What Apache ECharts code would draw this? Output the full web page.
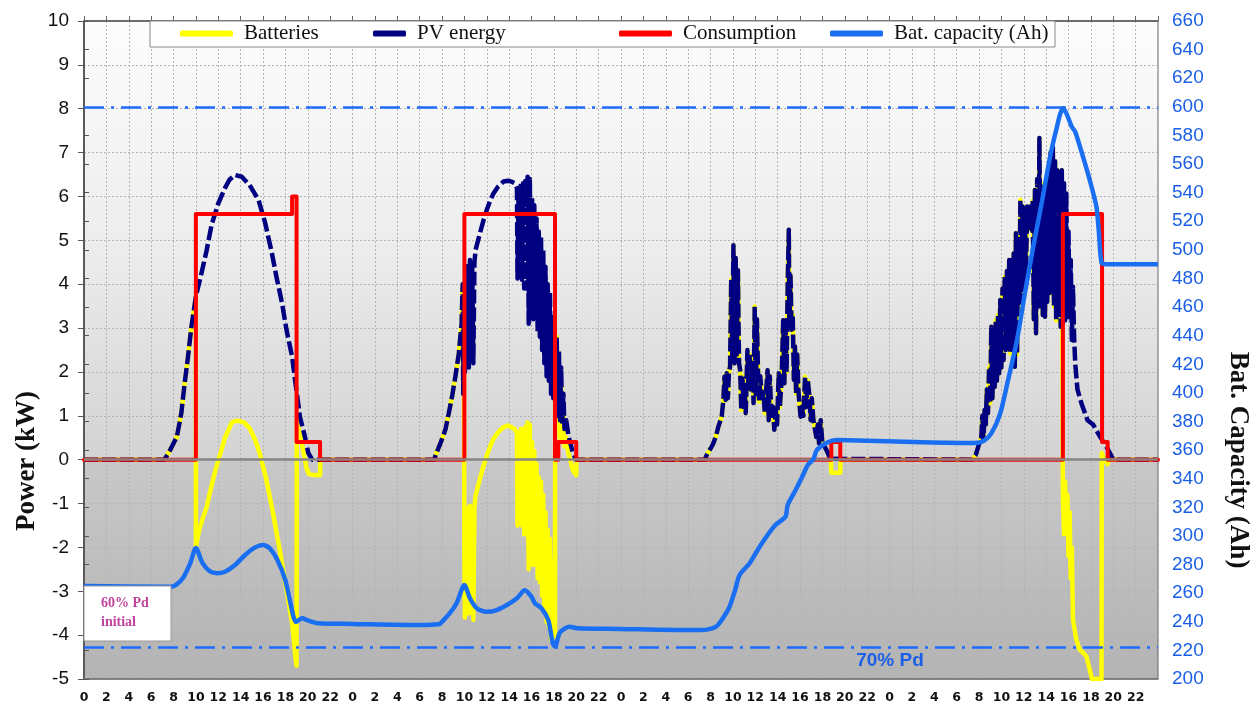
<!DOCTYPE html>
<html>
<head>
<meta charset="utf-8">
<title>Batteries, PV energy, consumption and battery capacity</title>
<script src="https://cdn.jsdelivr.net/npm/echarts@6/dist/echarts.min.js"></script>
<style>
  html, body { margin: 0; padding: 0; background: #fff; }
  #chart { width: 1258px; height: 707px; }
</style>
</head>
<body>
<div id="chart"></div>
<script>
// hours run over four days (0..96), power in kW, capacity in Ah

var pvDay1 = [[7.2,0],[7.7,0.22],[8.3,0.52],[8.7,1.06],[9.0,1.75],[9.3,2.35],[9.6,3.03],[10.0,3.72],
  [10.5,4.25],[10.97,4.78],[11.4,5.35],[12.0,5.84],[12.6,6.19],[13.0,6.38],[13.5,6.49],[14.1,6.45],
  [14.8,6.26],[15.6,5.92],[16.2,5.39],[16.8,4.7],[17.2,4.17],[17.7,3.57],[18.1,2.96],[18.6,2.35],
  [18.9,1.75],[19.3,0.98],[19.75,0.52],[20.05,0.15],[20.4,0]];

var pvDay2 = [[31.3,0],[31.5,0.15],[31.9,0.4],[32.3,0.68],[32.6,1.05],[32.9,1.44],[33.2,1.9],[33.5,2.42],
  [33.75,3.1],[33.85,4.0],[33.9,1.5],[33.95,3.6],[34.05,2.0],[34.1,4.1],[34.2,2.2],[34.3,4.5],[34.4,2.1],
  [34.5,4.55],[34.6,2.3],[34.7,4.4],[34.8,2.2],[34.9,4.5],[35.0,4.78],[35.4,5.17],[35.7,5.45],[36.0,5.69],
  [36.3,5.9],[36.6,6.07],[37.0,6.22],[37.5,6.34],[37.9,6.36],[38.2,6.34],[38.5,6.3],[38.7,6.19],[38.75,4.13],
  [38.85,6.2],[38.95,5.3],[39.05,6.3],[39.15,4.1],[39.25,6.3],[39.35,3.9],[39.45,6.35],[39.55,3.9],[39.65,6.45],
  [39.75,3.1],[39.85,6.4],[39.95,3.5],[40.05,6.0],[40.15,3.2],[40.25,5.8],[40.35,3.3],[40.45,5.5],[40.55,2.9],
  [40.65,5.2],[40.75,2.8],[40.85,5.1],[40.95,2.5],[41.05,4.8],[41.15,2.2],[41.25,4.4],[41.35,1.9],[41.45,4.0],
  [41.55,1.8],[41.65,3.8],[41.75,1.5],[41.85,3.3],[41.95,1.4],[42.05,3.0],[42.15,1.2],[42.25,2.8],[42.35,1.0],
  [42.45,2.5],[42.55,0.9],[42.65,2.1],[42.75,0.8],[42.85,1.5],[42.95,0.7],[43.1,0.9],[43.3,0.55],[43.5,0.35],
  [43.7,0.15],[44.0,0]];

var pvDay3 = [[55.5,0],[55.65,0.1],[56.0,0.25],[56.25,0.37],[56.5,0.55],[56.7,0.75],[57.0,0.98],[57.15,1.36],
  [57.25,1.89],[57.35,1.36],[57.45,1.97],[57.55,1.4],[57.65,2.0],[57.75,2.12],[57.85,4.1],[57.95,2.3],
  [58.05,4.89],[58.15,2.2],[58.25,4.6],[58.35,2.4],[58.45,4.32],[58.55,2.2],[58.65,2.04],[58.75,1.13],
  [58.85,1.9],[58.95,1.2],[59.05,1.66],[59.15,1.06],[59.3,2.5],[59.4,1.59],[59.5,2.4],[59.6,1.6],[59.75,2.2],
  [59.85,1.29],[59.95,3.49],[60.05,1.4],[60.15,3.2],[60.25,1.97],[60.35,1.32],[60.45,1.9],[60.6,1.4],
  [60.75,1.51],[60.85,1.06],[60.95,1.5],[61.1,2.04],[61.2,0.9],[61.3,1.9],[61.45,1.0],[61.6,1.2],[61.7,0.68],
  [61.85,1.1],[61.95,0.8],[62.1,1.97],[62.2,1.2],[62.35,1.8],[62.5,3.18],[62.6,1.74],[62.7,3.0],[62.8,2.0],
  [62.9,4.0],[63.0,5.24],[63.05,3.0],[63.15,4.2],[63.25,2.96],[63.35,3.3],[63.45,1.82],[63.55,2.58],
  [63.65,1.51],[63.75,2.4],[63.85,1.6],[63.95,1.28],[64.05,0.98],[64.15,1.2],[64.3,1.0],[64.45,1.89],
  [64.55,1.2],[64.7,1.8],[64.85,1.44],[64.95,0.9],[65.05,1.4],[65.2,0.9],[65.35,0.9],[65.45,0.52],[65.6,0.8],
  [65.7,0.37],[65.85,0.9],[66.0,0.37],[66.2,0.3],[66.4,0.2],[66.6,0.08],[66.75,0.02]];

var pvDay4 = [[79.4,0],[79.7,0.1],[80.0,0.35],[80.2,0.5],[80.3,1.0],[80.4,0.45],[80.5,1.13],[80.6,0.8],
  [80.7,1.6],[80.8,1.06],[80.9,2.1],[81.0,1.3],[81.1,3.03],[81.2,1.4],[81.3,2.8],[81.4,1.66],[81.5,3.18],
  [81.6,1.8],[81.7,3.3],[81.8,1.97],[81.9,3.64],[82.0,2.1],[82.1,3.9],[82.2,2.27],[82.3,4.17],[82.4,2.5],
  [82.5,4.3],[82.6,2.73],[82.7,4.55],[82.8,2.42],[82.9,4.55],[83.0,2.5],[83.1,4.7],[83.2,2.12],[83.3,5.16],
  [83.4,2.4],[83.5,5.0],[83.6,3.49],[83.7,5.92],[83.8,3.6],[83.9,5.77],[84.0,3.94],[84.1,5.6],[84.2,4.2],
  [84.3,5.77],[84.4,5.24],[84.6,5.77],[84.7,5.24],[84.8,5.9],[84.9,3.2],[85.0,6.15],[85.1,2.88],[85.2,6.4],
  [85.3,3.49],[85.4,7.33],[85.5,3.5],[85.6,6.3],[85.7,3.3],[85.8,5.84],[85.9,3.26],[86.0,6.2],[86.1,3.6],
  [86.2,6.6],[86.3,3.8],[86.4,7.0],[86.5,3.79],[86.6,7.13],[86.7,3.5],[86.8,6.8],[86.9,3.18],[87.0,6.6],
  [87.1,3.3],[87.2,6.5],[87.3,3.03],[87.4,6.6],[87.5,3.1],[87.6,6.3],[87.7,3.18],[87.8,6.07],[87.9,3.4],
  [88.0,5.2],[88.1,3.18],[88.2,4.55],[88.3,2.73],[88.4,3.94],[88.5,2.8],[88.6,2.2],[88.8,1.6],[89.2,1.25],
  [89.7,0.9],[90.2,0.8],[90.6,0.62],[91.0,0.45],[91.5,0.25],[91.9,0.05],[92.1,0]];

// battery power where the load is on (elsewhere it follows the PV curve)
var batDay1 = [[10.0,-2.0],[10.3,-1.6],[10.6,-1.35],[10.97,-1.07],[11.3,-0.7],[11.6,-0.39],[11.9,-0.1],
  [12.2,0.15],[12.6,0.5],[13.2,0.84],[13.5,0.88],[13.9,0.88],[14.3,0.85],[14.8,0.72],[15.3,0.45],[15.7,0.15],
  [16.0,-0.15],[16.3,-0.46],[16.9,-1.22],[17.5,-2.06],[18.1,-2.97],[18.6,-3.73],[18.9,-4.5],[19.0,-4.7],
  [19.02,0.9],[19.3,0.6],[19.6,0.2],[19.9,-0.2],[20.1,-0.33],[20.5,-0.35],[21.1,-0.35],[21.12,0]];

var batDay2 = [[34.0,-2.2],[34.05,-3.6],[34.1,-1.5],[34.2,-3.4],[34.3,-1.1],[34.4,-3.5],[34.5,-1.05],
  [34.6,-3.3],[34.7,-1.2],[34.8,-3.65],[34.9,-1.1],[35.0,-0.82],[35.4,-0.43],[35.7,-0.15],[36.0,0.09],
  [36.3,0.3],[36.6,0.47],[37.0,0.62],[37.5,0.74],[37.9,0.78],[38.2,0.74],[38.5,0.7],[38.7,0.6],[38.75,-1.5],
  [38.85,0.6],[38.95,-0.3],[39.05,0.7],[39.15,-1.5],[39.25,0.7],[39.35,-1.7],[39.45,0.75],[39.55,-1.7],
  [39.65,0.85],[39.75,-2.5],[39.85,0.8],[39.95,-2.1],[40.05,0.4],[40.15,-2.4],[40.25,0.2],[40.35,-2.3],
  [40.45,-0.1],[40.55,-2.7],[40.65,-0.4],[40.75,-2.8],[40.85,-0.5],[40.95,-3.1],[41.05,-0.8],[41.15,-3.4],
  [41.25,-1.2],[41.35,-3.7],[41.45,-1.6],[41.55,-3.8],[41.65,-1.8],[41.75,-4.1],[41.85,-2.3],[41.95,-4.05],
  [42.05,-2.6],[42.1,-4.0],[42.12,1.6],[42.25,2.8],[42.35,1.0],[42.45,2.1],[42.55,0.5],[42.65,1.7],
  [42.75,0.4],[42.85,1.1],[42.95,0.3],[43.1,0.5],[43.3,0.15],[43.5,-0.05],[43.7,-0.25],[44.0,-0.35],[44.02,0]];

var batDay3 = [[66.8,-0.3],[67.6,-0.3],[67.62,0]];

var batDay4 = [[87.5,-0.9],[87.6,-1.7],[87.7,-0.5],[87.8,-1.6],[87.9,-0.8],[88.0,-2.2],[88.1,-1.2],
  [88.2,-2.7],[88.3,-2.0],[88.4,-3.65],[88.7,-4.1],[89.0,-4.33],[89.3,-4.4],[89.6,-4.48],[89.9,-4.79],
  [90.1,-5.0],[90.95,-5.0],[90.97,0.15],[91.2,0.0],[91.5,-0.1],[91.55,0]];

var consumption = [[0,0],[10,0],[10,5.6],[18.6,5.6],[18.6,6.0],[19.0,6.0],[19.0,0.4],[21.1,0.4],[21.1,0],
  [34,0],[34,5.6],[42.1,5.6],[42.1,0],[42.4,0],[42.4,0.4],[44.0,0.4],[44.0,0],
  [66.8,0],[66.8,0.4],[67.6,0.4],[67.6,0],
  [87.5,0],[87.5,5.6],[91.0,5.6],[91.0,0.4],[91.5,0.4],[91.5,0],[96,0]];

var capacity = [[0,265],[7.7,264.5],[8.2,265.7],[8.85,270.6],[9.5,281],[10.0,291.6],[10.6,281],[11.3,275],
  [11.9,274],[12.6,275],[13.5,279.7],[14.4,286.7],[15.3,292],[16.0,293.7],[16.6,291.4],[17.3,283],[18.0,269],
  [18.4,255],[18.95,240],[19.5,242.4],[20.0,241],[20.9,239],[24,238.5],[30,237.7],[31.8,238.4],[32.0,240],
  [32.7,246],[33.3,253],[34.0,265.7],[34.5,256.4],[35.1,249.4],[36.0,247],[36.9,248.2],[37.8,251.7],
  [38.7,256.4],[39.4,262],[40.0,257.5],[40.3,253],[40.9,249.4],[41.5,241.2],[41.9,225],[42.1,222.6],
  [42.5,232],[43.0,235.4],[43.4,236.6],[44.1,235.4],[47.9,235],[53.3,234.3],[55.1,234.3],[55.8,234.7],
  [56.5,236.6],[57.0,241.2],[57.7,250.5],[58.2,262.2],[58.6,272.7],[59.5,280.9],[60.2,290],[60.9,298.4],
  [61.8,307.6],[62.7,313.4],[62.9,321.6],[63.6,332],[64.2,341.4],[64.7,349.6],[65.2,353.8],[65.5,360],
  [66.4,365.2],[67.3,367],[70,366.6],[75,365.5],[79.6,365],[80.4,366.4],[81.1,371.7],[81.9,385.7],
  [82.6,409],[83.4,437],[84.1,469.6],[84.85,502.2],[85.6,532.5],[86.3,562.8],[86.9,583.8],[87.5,599],
  [87.8,595.6],[88.3,586],[88.6,582.6],[89.3,565],[89.9,548.8],[90.5,530],[90.7,513.9],[90.97,490.6],
  [91.4,490],[96,490]];

var capacityLimits = [600, 222];

var chart = echarts.init(document.getElementById('chart'), null, { renderer: 'canvas' });

var pvAll = [[0,0]].concat(pvDay1, pvDay2, pvDay3, pvDay4, [[96,0]]);
var batAll = [[0,0]].concat(
  pvDay1.filter(function(p) { return p[0] <= 10; }), batDay1,
  pvDay2.filter(function(p) { return p[0] < 34; }), batDay2,
  pvDay3, batDay3,
  pvDay4.filter(function(p) { return p[0] < 87.5; }), batDay4,
  [[96,0]]);

var blue = '#1a6ef2';
var labelBlue = '#1a5fe6';
var serif = 'Liberation Serif';

function legendAt(name, left, width) {
  return {
    data: [name],
    left: left,
    top: 23,
    padding: 0,
    itemWidth: width,
    itemHeight: 6,
    icon: 'roundRect',
    selectedMode: false,
    z: 6,
    textStyle: { fontFamily: serif, fontSize: 21, color: '#111', padding: [0, 0, 0, 6] }
  };
}

chart.setOption({
  animation: false,
  backgroundColor: '#fff',
  grid: {
    left: 84, right: 100, top: 21, bottom: 28,
    show: true,
    borderColor: '#666',
    borderWidth: 1,
    backgroundColor: new echarts.graphic.LinearGradient(0, 0, 0, 1, [
      { offset: 0, color: '#fdfdfd' },
      { offset: 0.35, color: '#ececec' },
      { offset: 0.666, color: '#d3d3d3' },
      { offset: 0.668, color: '#c8c8c8' },
      { offset: 1, color: '#b3b3b3' }
    ])
  },
  legend: [
    legendAt('Batteries', 180, 53),
    legendAt('PV energy', 373, 33),
    legendAt('Consumption', 619, 53),
    legendAt('Bat. capacity (Ah)', 830, 53)
  ],
  xAxis: [{
    type: 'value', min: 0, max: 96, interval: 2,
    axisLine: { onZero: false, lineStyle: { color: '#777', width: 1.5 } },
    axisTick: { show: false },
    axisLabel: {
      margin: 12, fontFamily: 'DejaVu Sans', fontWeight: 'bold', fontSize: 12.5, color: '#111',
      formatter: function(v) { return v >= 96 ? '' : String(v % 24); }
    },
    splitLine: { show: true, lineStyle: { color: '#b4b4b4', type: [2, 2], width: 1 } }
  }, {
    type: 'value', min: 0, max: 96, interval: 2, position: 'top',
    axisLine: { onZero: false, lineStyle: { color: '#555', width: 1.5 } },
    axisTick: { show: true, length: 5, lineStyle: { color: '#666' } },
    axisLabel: { show: false },
    splitLine: { show: false }
  }],
  yAxis: [{
    type: 'value', min: -5, max: 10, interval: 1,
    axisLine: { show: true, lineStyle: { color: '#555', width: 1.5 } },
    axisTick: { show: true, length: 6, lineStyle: { color: '#555' } },
    axisLabel: { margin: 15, fontFamily: 'Liberation Sans', fontSize: 19, color: '#111' },
    splitLine: { show: true, lineStyle: { color: '#b4b4b4', type: [2, 2], width: 1 } }
  }, {
    type: 'value', min: 200, max: 660, interval: 20, position: 'right',
    axisLine: { show: true, lineStyle: { color: '#555', width: 1.5 } },
    axisTick: { show: true, length: 5, lineStyle: { color: '#555' } },
    axisLabel: { margin: 14, fontFamily: 'Liberation Sans', fontSize: 19, color: labelBlue },
    splitLine: { show: false }
  }],
  series: [{
    name: 'Batteries',
    type: 'line',
    data: batAll,
    showSymbol: false,
    color: '#ffff00',
    lineStyle: { color: '#ffff00', width: 4.5, join: 'round' },
    z: 2,
    markLine: {
      silent: true, symbol: 'none', label: { show: false },
      lineStyle: { color: '#858585', width: 2.5, type: 'solid' },
      data: [{ yAxis: 0 }]
    }
  }, {
    name: 'PV energy',
    type: 'line',
    data: pvAll,
    showSymbol: false,
    color: '#000080',
    lineStyle: { color: '#000080', width: 4.5, type: [14, 4], join: 'round' },
    z: 3
  }, {
    name: 'Consumption',
    type: 'line',
    data: consumption,
    showSymbol: false,
    color: '#ff0000',
    lineStyle: { color: '#ff0000', width: 4, join: 'round', cap: 'round' },
    z: 4
  }, {
    name: 'Bat. capacity (Ah)',
    type: 'line',
    yAxisIndex: 1,
    data: capacity,
    showSymbol: false,
    smooth: 0.25,
    color: blue,
    lineStyle: { color: blue, width: 4.5, join: 'round' },
    z: 5,
    markLine: {
      silent: true, symbol: 'none', label: { show: false },
      lineStyle: { color: '#1f6bff', width: 2.5, type: [20, 7, 3, 7] },
      data: capacityLimits.map(function(v) { return { yAxis: v }; })
    }
  }],
  graphic: [{
    type: 'rect', z: 4,
    shape: { x: 150, y: 21, width: 905, height: 26 },
    style: { fill: '#fff', stroke: '#888', lineWidth: 1 }
  }, {
    type: 'rect', z: 10,
    shape: { x: 84, y: 586, width: 87, height: 55 },
    style: { fill: '#fff', stroke: '#999', lineWidth: 1 }
  }, {
    type: 'text', z: 11, left: 101, top: 596,
    style: { text: '60% Pd', fill: '#c0449c', fontFamily: serif, fontWeight: 'bold', fontSize: 14 }
  }, {
    type: 'text', z: 11, left: 101, top: 615,
    style: { text: 'initial', fill: '#c0449c', fontFamily: serif, fontWeight: 'bold', fontSize: 14 }
  }, {
    type: 'text', z: 11, x: 890, y: 661,
    style: { text: '70% Pd', fill: labelBlue, fontFamily: 'Liberation Sans', fontWeight: 'bold',
      fontSize: 19, align: 'center', verticalAlign: 'middle' }
  }, {
    type: 'text', z: 11, x: 27, y: 461, rotation: Math.PI / 2,
    style: { text: 'Power (kW)', fill: '#111', fontFamily: serif, fontWeight: 'bold',
      fontSize: 27, align: 'center', verticalAlign: 'middle' }
  }, {
    type: 'text', z: 11, x: 1238, y: 460, rotation: -Math.PI / 2,
    style: { text: 'Bat. Capacity (Ah)', fill: '#111', fontFamily: serif, fontWeight: 'bold',
      fontSize: 27, align: 'center', verticalAlign: 'middle' }
  }]
});
</script>
</body>
</html>
